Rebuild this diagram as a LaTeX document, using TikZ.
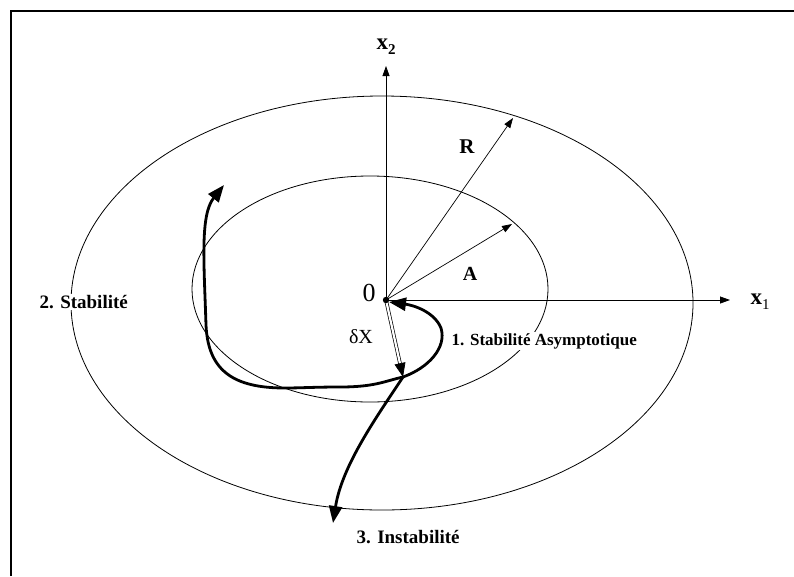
\documentclass[tikz,border=0pt]{standalone}
\usepackage{fontspec}
\setmainfont{Liberation Serif}
\usetikzlibrary{arrows.meta}
\begin{document}
\begin{tikzpicture}[x=1pt,y=-1pt,
  thinline/.style={line width=0.8pt},
  axis/.style={line width=0.8pt,-{Triangle[length=10pt,width=7pt]}},
  radius arrow/.style={line width=0.7pt,-{Triangle[length=10pt,width=7pt]}},
  traj/.style={line width=2.8pt,-{Triangle[length=17pt,width=13pt]}},
  lbl/.style={font=\bfseries\fontsize{19}{22}\selectfont,inner sep=1.5pt,fill=white},
  axlbl/.style={font=\bfseries\fontsize{23}{25}\selectfont,inner sep=0pt},
  plain/.style={font=\fontsize{20}{23}\selectfont,inner sep=0pt}]
\useasboundingbox (0,0) rectangle (794,576);
% frame
\draw[line width=1.4pt] (11,576) -- (11,11) -- (794,11);
% ellipses
\draw[thinline] (382,303) ellipse [x radius=311, y radius=207];
\draw[thinline] (370,289) ellipse [x radius=178, y radius=113];
% coordinates
\coordinate (O) at (386,300);
\coordinate (X1) at (730,300);
\coordinate (X2) at (386,66);
\coordinate (Rt) at (513,118);
\coordinate (At) at (512,224);
\coordinate (J) at (403,377);
\coordinate (Oa) at (389,302);
\coordinate (S2) at (224,185);
\coordinate (I3) at (333,523);
% axes
\draw[axis] (O) -- (X1);
\draw[axis] (O) -- (X2);
\draw[radius arrow] (O) -- (Rt);
\draw[radius arrow] (O) -- (At);
% labels
\node[axlbl] (x1) at (760,302) {x\raisebox{-0.5ex}{\fontsize{15}{16}\selectfont\mdseries 1}};
\node[axlbl] (x2) at (386,47) {x\raisebox{-0.5ex}{\fontsize{15}{16}\selectfont 2}};
\node[lbl,fill=none,font=\bfseries\fontsize{21}{24}\selectfont] (R) at (467,147) {R};
\node[lbl,fill=none,font=\bfseries\fontsize{20}{23}\selectfont] (A) at (470,274) {A};
\node[font=\fontsize{26}{30}\selectfont,inner sep=0pt] (zero) at (369,293) {0};
\node[plain] (dx) at (361,337) {δX};
\node[lbl,font=\bfseries\fontsize{17}{20}\selectfont,anchor=west] (s1) at (450,341) {1. Stabilité Asymptotique};
\node[lbl,anchor=west] (s2) at (38,302) {2. Stabilité};
\node[lbl,anchor=west] (s3) at (355,537) {3. Instabilité};
% trajectories
\draw[traj] (J) .. controls (428,368) and (447,348) .. (441,328)
  .. controls (434,311) and (412,305) .. (Oa);
\draw[traj] (J) .. controls (385,381) and (375,387) .. (340,387)
  .. controls (315,387) and (300,388) .. (285,388)
  .. controls (235,388) and (208,372) .. (206,325)
  .. controls (204,262) and (200,215) .. (S2);
\draw[traj] (J) .. controls (378,415) and (342,465) .. (I3);
% delta X double arrow
\draw[line width=0.7pt,double,double distance=2.2pt,-{Triangle[length=14pt,width=11pt,fill=black]}] (O) -- (J);
\fill (O) circle (3.2pt);
\end{tikzpicture}
\end{document}
